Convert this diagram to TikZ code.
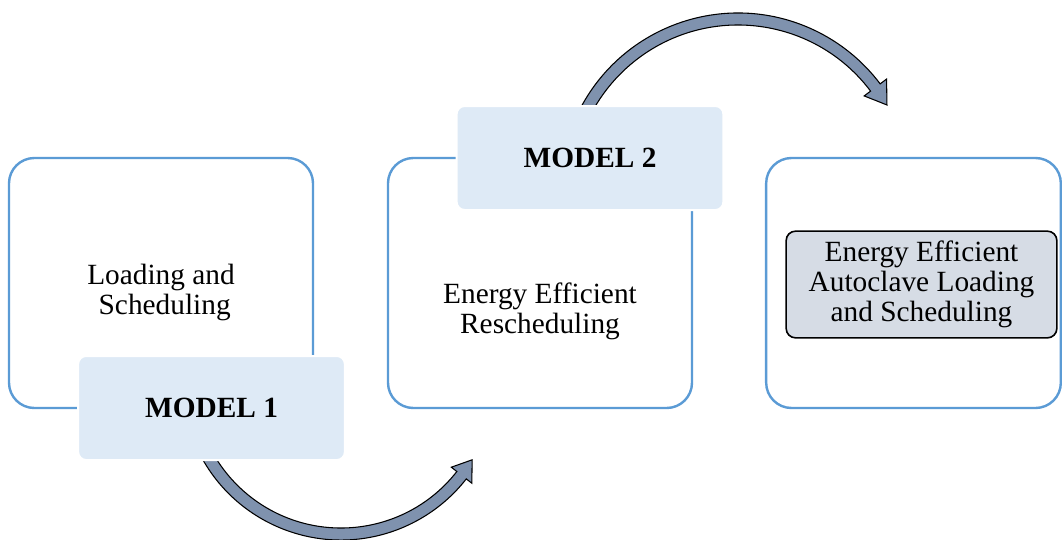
\documentclass[tikz,border=0pt]{standalone}
\usepackage{fontspec}
\setmainfont{Liberation Serif}
\usepackage{xcolor}
\usepackage{tikz}
\usetikzlibrary{positioning}
\definecolor{cFrame}{RGB}{91,155,213}
\definecolor{cModel}{RGB}{222,234,246}
\definecolor{cGoal}{RGB}{214,220,229}
\definecolor{cArrow}{RGB}{127,146,174}
\newcommand{\diafont}{\fontsize{22}{22.5}\selectfont}

\begin{document}
\begin{tikzpicture}[x=0.75pt, y=0.75pt,
  frame/.style={draw=cFrame, line width=1.8pt, rounded corners=19pt, fill=white,
                minimum width=228pt, minimum height=187.5pt},
  model/.style={fill=cModel, draw=white, line width=1.5pt, rounded corners=6pt,
                minimum width=200pt, minimum height=78pt, font=\diafont\bfseries},
  txt/.style={align=center, font=\diafont},
  goal/.style={draw=black, fill=cGoal, line width=1.2pt, rounded corners=7pt,
               align=center, font=\diafont, minimum width=203pt, minimum height=80pt},
  arcarrow/.style={draw=black, fill=cArrow, line width=0.8pt}]
\useasboundingbox (0,0) rectangle (1062,-539);
% curved arrows (drawn first, the model boxes hide their tails)
\coordinate (lowc) at (341,-381);
\coordinate (topc) at (738,-191);
\begin{scope}[shift={(lowc)}]
\path[arcarrow] (205:159) arc[start angle=205, end angle=322, radius=159]
  -- (322:166) -- (329:153) -- (322:140) -- (322:147)
  arc[start angle=322, end angle=205, radius=147] -- cycle;
\end{scope}
\begin{scope}[shift={(topc)}]
\path[arcarrow] (155:178) arc[start angle=155, end angle=37, radius=178]
  -- (37:186) -- (30:172) -- (37:158) -- (37:166)
  arc[start angle=37, end angle=155, radius=166] -- cycle;
\end{scope}
% frames
\node[frame] (box1) at (161,-283) {};
\node[frame] (box2) at (540,-283) {};
\node[frame, minimum width=221pt] (box3) at (913.5,-283) {};
\node[txt] (load) at (161,-292) {Loading and\\\ Scheduling};
\node[txt] (resched) at (540,-311) {Energy Efficient\\Rescheduling};
\node[goal] (auto) at (921.5,-284.5) {Energy Efficient\\Autoclave Loading\\and Scheduling};
% model tags
\node[model] (m1) at (211.5,-408) {MODEL 1};
\node[model] (m2) at (590,-158) {MODEL 2};
\end{tikzpicture}
\end{document}
